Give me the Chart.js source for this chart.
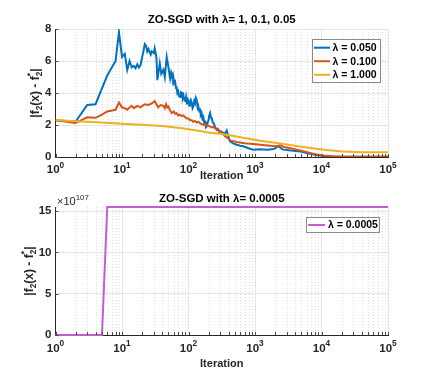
<!DOCTYPE html>
<html><head><meta charset="utf-8">
<script src="https://cdn.jsdelivr.net/npm/chart.js@4/dist/chart.umd.min.js"></script>
<style>
html,body{margin:0;padding:0;background:#fff;}
#wrap{position:relative;width:428px;height:377px;overflow:hidden;}
canvas{position:absolute;left:0;}
#c1{top:0}
#c2{top:190px}
</style></head><body>
<div id="wrap">
<canvas id="c1" width="428" height="190"></canvas>
<canvas id="c2" width="428" height="187"></canvas>
</div>
<script>
// ---------------- data ----------------
const seriesNames = ['λ = 0.050', 'λ = 0.100', 'λ = 1.000'];
const seriesColors = ['#0072BD', '#D95319', '#EDB120'];

const blueIter = [1,2,3,4,6,8,9,10,11,12,13,14,15,16,17,18,19,20,21,22,23,24,25,27,28,30,31,33,34,36,37,39,42,44,47,50,52,53,55,56,58,59,61,63,65,66,68,70,72,75,77,80,82,84,87,90,92,95,98,100,103,105,109,112,115,118,122,125,129,133,137,140,145,149,153,158,162,167,172,178,183,188,194,200,205,211,218,225,232,240,252,265,277,290,310,333,355,376,390,400,420,470,530,600,665,800,940,1200,1510,1900,2240,2630,3500,4760,6000,7560,10600,15000,30000,100000];
const blueVal  = [2.30,2.20,3.25,3.30,5.10,6.00,7.80,6.25,6.45,5.45,6.00,5.60,5.70,5.55,5.80,5.60,5.75,6.20,6.60,7.05,6.95,6.60,6.75,6.40,6.60,6.50,6.80,6.20,4.80,5.50,5.85,5.20,5.45,5.00,6.25,5.60,5.10,4.90,5.30,5.20,4.80,5.00,4.60,4.70,4.30,4.40,4.00,4.10,3.80,3.75,4.05,4.00,3.70,3.85,3.55,3.50,3.75,3.35,3.60,3.55,3.20,3.30,3.55,3.40,3.05,3.15,3.50,3.40,3.70,3.55,3.10,3.20,2.90,2.95,2.60,2.70,2.40,2.50,2.15,2.20,1.85,1.90,2.15,2.30,2.60,2.75,2.45,2.40,2.15,2.10,1.85,1.70,1.75,1.55,1.60,1.50,1.45,1.65,1.40,1.25,0.98,0.85,0.77,0.70,0.67,0.55,0.46,0.48,0.46,0.50,0.67,0.46,0.40,0.35,0.25,0.15,0.06,0.02,0.01,0.01];

const redIter = [1,2,3,4,5,6,8,9,10,11,12,13,14,15,17,19,22,25,28,31,33,35,38,42,44,46,48,50,53,56,60,63,66,70,74,79,84,88,94,100,106,112,118,125,133,141,150,158,168,178,188,199,212,225,238,251,265,280,300,330,355,397,430,530,700,940,1300,1700,2130,2390,2700,3400,4250,5500,6740,8500,10600,15000,21000,100000];
const redVal  = [2.30,2.12,2.48,2.45,2.65,2.85,2.95,3.40,3.10,3.05,2.95,3.10,3.20,3.05,3.20,3.10,3.30,3.25,3.35,3.50,3.30,3.10,3.25,3.20,3.05,3.30,3.10,3.15,2.90,2.75,2.85,2.70,2.75,2.60,2.65,2.55,2.60,2.50,2.40,2.40,2.30,2.30,2.20,2.25,2.15,2.20,2.10,2.05,2.00,2.05,1.95,1.95,1.90,1.85,1.88,1.80,1.78,1.70,1.58,1.45,1.30,1.15,1.02,0.94,0.86,0.81,0.75,0.70,0.67,0.75,0.62,0.55,0.46,0.35,0.25,0.15,0.10,0.04,0.02,0.02];

const yellowIter = [1,2,5,10,20,40,80,150,210,300,400,665,1200,2130,4000,6740,12000,21200,40000,100000];
const yellowVal  = [2.32,2.24,2.15,2.08,2.02,1.93,1.80,1.62,1.52,1.45,1.38,1.20,1.02,0.875,0.70,0.56,0.44,0.35,0.30,0.29];

const purpleName = 'λ = 0.0005';
const purpleColor = '#C061CB';
const purpleIter = [1,5,6,100000];
const purpleVal  = [0,0,15.5,15.5];   // in units of 10^107
const purpleExp = '107';

const decades = [1,10,100,1000,10000,100000];
const decadeExps = ['0','1','2','3','4','5'];
const yTicksTop = [0,2,4,6,8];
const yTicksBottom = [0,5,10,15];

const titleTop = 'ZO-SGD with λ= 1, 0.1, 0.05';
const titleBottom = 'ZO-SGD with λ= 0.0005';
const xLabel = 'Iteration';

// ---------------- helpers ----------------
const FONT = "'Liberation Sans', Arial, Helvetica, sans-serif";
const INK = '#262626';
const zip = (xs, ys) => xs.map((x, i) => ({x: x, y: ys[i]}));

function logTicks() {
  const t = [];
  for (let i = 0; i < decades.length - 1; i++) {
    for (let m = 1; m <= 9; m++) t.push({value: m * decades[i], major: m === 1});
  }
  t.push({value: decades[decades.length - 1], major: true});
  return t;
}

function drawRich(ctx, segs, x, baseY, size, weight, align, supScale) {
  const small = size * (supScale || 0.68);
  const f = s => weight + ' ' + s + 'px ' + FONT;
  const widths = segs.map(s => {
    if (s.t === 'n') { ctx.font = f(size); return ctx.measureText(s.s).width; }
    ctx.font = f(small);
    if (s.t === 'ss') return Math.max(ctx.measureText(s.sub).width, ctx.measureText(s.sup).width);
    return ctx.measureText(s.s).width;
  });
  const total = widths.reduce((a, b) => a + b, 0);
  let cx = align === 'left' ? x : x - total / 2;
  ctx.textAlign = 'left';
  ctx.textBaseline = 'alphabetic';
  segs.forEach((s, i) => {
    if (s.t === 'n') { ctx.font = f(size); ctx.fillText(s.s, cx, baseY); }
    else if (s.t === 'sub') { ctx.font = f(small); ctx.fillText(s.s, cx, baseY + size * 0.25); }
    else if (s.t === 'sup') { ctx.font = f(small); ctx.fillText(s.s, cx, baseY - size * 0.45); }
    else { ctx.font = f(small); ctx.fillText(s.sub, cx, baseY + size * 0.25); ctx.fillText(s.sup, cx, baseY - size * 0.48); }
    cx += widths[i];
  });
}

const yTitleSegs = [
  {t: 'n', s: '|f'}, {t: 'sub', s: '2'}, {t: 'n', s: '(x) - f'},
  {t: 'ss', sub: '2', sup: '*'}, {t: 'n', s: '|'}
];

const deco = {
  id: 'deco',
  beforeDatasetsDraw(chart, args, o) {
    const ctx = chart.ctx, a = chart.chartArea, x = chart.scales.x;
    ctx.save();
    ctx.strokeStyle = '#dedede';
    ctx.lineWidth = 1;
    ctx.setLineDash([1, 2]);
    x.ticks.forEach(t => {
      if (!t.major) {
        const px = Math.round(x.getPixelForValue(t.value)) + 0.5;
        ctx.beginPath(); ctx.moveTo(px, a.top); ctx.lineTo(px, a.bottom); ctx.stroke();
      }
    });
    ctx.restore();
  },
  afterDraw(chart, args, o) {
    const ctx = chart.ctx, a = chart.chartArea, x = chart.scales.x, y = chart.scales.y;
    ctx.save();
    // inward tick marks
    ctx.strokeStyle = '#4a4a4a';
    ctx.lineWidth = 1;
    x.ticks.forEach(t => {
      const px = Math.round(x.getPixelForValue(t.value)) + 0.5;
      ctx.beginPath(); ctx.moveTo(px, a.bottom); ctx.lineTo(px, a.bottom - 3); ctx.stroke();
    });
    y.ticks.forEach(t => {
      const py = Math.round(y.getPixelForValue(t.value)) + 0.5;
      ctx.beginPath(); ctx.moveTo(a.left, py); ctx.lineTo(a.left + 3, py); ctx.stroke();
    });
    // x tick labels 10^n
    ctx.fillStyle = INK;
    decades.forEach((d, i) => {
      drawRich(ctx, [{t: 'n', s: '10'}, {t: 'sup', s: decadeExps[i]}], x.getPixelForValue(d), o.xTickBase, 11.5, 'bold', 'center', 0.72);
    });
    // titles
    const cx = (a.left + a.right) / 2;
    ctx.fillStyle = '#000';
    ctx.font = 'bold 11.5px ' + FONT;
    ctx.textAlign = 'center'; ctx.textBaseline = 'middle';
    ctx.fillText(o.title, cx, o.titleY);
    ctx.fillStyle = INK;
    ctx.font = 'bold 11px ' + FONT;
    ctx.fillText(xLabel, cx, o.xLabelY);
    // y title (rotated)
    ctx.save();
    ctx.translate(o.yLabelX, (a.top + a.bottom) / 2);
    ctx.rotate(-Math.PI / 2);
    drawRich(ctx, yTitleSegs, 0, 0, 12, 'bold', 'center', 0.7);
    ctx.restore();
    // exponent label
    if (o.exp) {
      drawRich(ctx, [{t: 'n', s: '×10'}, {t: 'sup', s: o.exp}], o.expX, o.expY, 11, 'normal', 'left', 0.72);
    }
    // legend
    const L = o.legend;
    ctx.fillStyle = '#fff';
    ctx.fillRect(L.x0, L.y0, L.x1 - L.x0, L.y1 - L.y0);
    ctx.strokeStyle = '#8a8a8a';
    ctx.lineWidth = 1;
    ctx.strokeRect(Math.round(L.x0) + 0.5, Math.round(L.y0) + 0.5, Math.round(L.x1 - L.x0), Math.round(L.y1 - L.y0));
    ctx.font = 'bold 10.5px ' + FONT;
    ctx.textAlign = 'left'; ctx.textBaseline = 'middle';
    L.items.forEach((it, i) => {
      const ry = L.rowY[i];
      ctx.strokeStyle = it.color; ctx.lineWidth = 2;
      ctx.beginPath(); ctx.moveTo(L.lx0, ry); ctx.lineTo(L.lx1, ry); ctx.stroke();
      ctx.fillStyle = '#000';
      ctx.fillText(it.label, L.tx, ry + 0.5);
    });
    ctx.restore();
  }
};

function xScale(height) {
  return {
    type: 'logarithmic', min: 1, max: 100000,
    afterBuildTicks: s => { s.ticks = logTicks(); },
    afterFit: s => { s.height = height; },
    ticks: {
      autoSkip: false, maxRotation: 0, minRotation: 0, padding: 7, color: INK,
      font: {family: FONT, size: 11, weight: 'bold'},
      callback: () => ''
    },
    grid: {
      drawTicks: false, lineWidth: 1,
      color: c => (c.tick && c.tick.major) ? '#e4e4e4' : 'rgba(0,0,0,0)'
    },
    border: {display: true, color: INK, width: 1}
  };
}

function yScale(min, max, ticks, width) {
  return {
    type: 'linear', min: min, max: max,
    afterBuildTicks: s => { s.ticks = ticks.map(v => ({value: v})); },
    afterFit: s => { s.width = width; },
    ticks: {
      autoSkip: false, padding: 4, color: INK,
      font: {family: FONT, size: 11.5, weight: 'bold'},
      callback: v => String(v)
    },
    grid: {drawTicks: false, color: '#e4e4e4', lineWidth: 1},
    border: {display: true, color: INK, width: 1}
  };
}

const common = {
  responsive: false, animation: false, devicePixelRatio: 1, events: [],
  elements: {point: {radius: 0}, line: {tension: 0, borderWidth: 2}},
};

// ---------------- top chart ----------------
const topSets = [
  {label: seriesNames[0], data: zip(blueIter, blueVal), borderColor: seriesColors[0], order: 3},
  {label: seriesNames[1], data: zip(redIter, redVal), borderColor: seriesColors[1], order: 2},
  {label: seriesNames[2], data: zip(yellowIter, yellowVal), borderColor: seriesColors[2], order: 1}
];
new Chart(document.getElementById('c1'), {
  type: 'line',
  data: {datasets: topSets.map(d => Object.assign({fill: false, pointRadius: 0}, d))},
  options: Object.assign({}, common, {
    layout: {padding: {left: 0, right: 40, top: 29, bottom: 0}},
    scales: {
      x: xScale(33),
      y: yScale(0, 8, yTicksTop, 55.5)
    },
    plugins: {
      legend: {display: false}, title: {display: false}, tooltip: {enabled: false},
      deco: {
        title: titleTop, titleY: 20, xLabelY: 176, yLabelX: 38.5, xTickBase: 173,
        legend: {
          x0: 311.5, y0: 39, x1: 379.5, y1: 81.5, lx0: 314, lx1: 330, tx: 332.5,
          rowY: [47.7, 61.2, 74.8],
          items: seriesNames.map((n, i) => ({label: n, color: seriesColors[i]}))
        }
      }
    }
  }),
  plugins: [deco]
});

// ---------------- bottom chart ----------------
new Chart(document.getElementById('c2'), {
  type: 'line',
  data: {datasets: [{label: purpleName, data: zip(purpleIter, purpleVal), borderColor: purpleColor, fill: false, pointRadius: 0, clip: false}]},
  options: Object.assign({}, common, {
    layout: {padding: {left: 0, right: 40, top: 17, bottom: 0}},
    scales: {
      x: xScale(42),
      y: yScale(0, 15.5, yTicksBottom, 55.5)
    },
    plugins: {
      legend: {display: false}, title: {display: false}, tooltip: {enabled: false},
      deco: {
        title: titleBottom, titleY: 9, xLabelY: 174, yLabelX: 33, xTickBase: 161.5,
        exp: purpleExp, expX: 57, expY: 15,
        legend: {
          x0: 305.5, y0: 27.3, x1: 378, y1: 42.7, lx0: 308, lx1: 325, tx: 328,
          rowY: [35],
          items: [{label: purpleName, color: purpleColor}]
        }
      }
    }
  }),
  plugins: [deco]
});
</script>
</body></html>
